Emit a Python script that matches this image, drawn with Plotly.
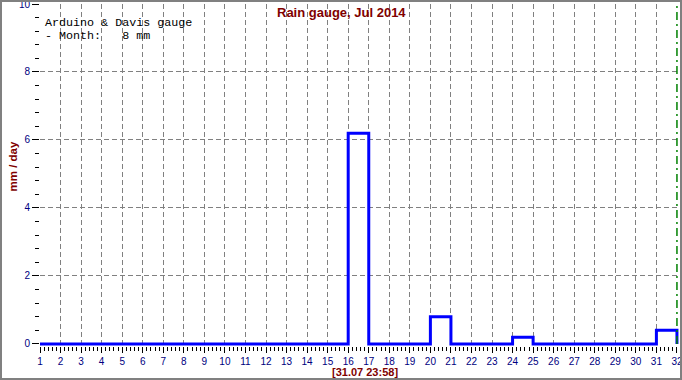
import plotly.graph_objects as go

# ---- data ----
days = [1, 2, 3, 4, 5, 6, 7, 8, 9, 10, 11, 12, 13, 14, 15, 16,
        17, 18, 19, 20, 21, 22, 23, 24, 25, 26, 27, 28, 29, 30, 31, 32]
rain_mm = [0, 0, 0, 0, 0, 0, 0, 0, 0, 0, 0, 0, 0, 0, 0, 6.2,
           0, 0, 0, 0.8, 0, 0, 0, 0.2, 0, 0, 0, 0, 0, 0, 0.4, 0]
now_day = [32, 32]
now_span = [0, 10]
title_text = "Rain gauge, Jul 2014"
y_title = "mm / day"
stamp_text = "[31.07 23:58]"
info_lines = ["Arduino &amp; Davis gauge", "- Month:&nbsp;&nbsp;&nbsp;8 mm"]
x_ticks = [1, 2, 3, 4, 5, 6, 7, 8, 9, 10, 11, 12, 13, 14, 15, 16,
           17, 18, 19, 20, 21, 22, 23, 24, 25, 26, 27, 28, 29, 30, 31, 32]
x_grid = [2, 3, 4, 5, 6, 7, 8, 9, 10, 11, 12, 13, 14, 15, 16,
          17, 18, 19, 20, 21, 22, 23, 24, 25, 26, 27, 28, 29, 30, 31]
y_ticks = [0, 2, 4, 6, 8, 10]
y_grid = [2, 4, 6, 8]

# ---- geometry helpers (pixels -> paper) ----
W, H = 682, 380
ML, MR, MT, MB = 40, 3, 4, 34
PW, PH = W - ML - MR, H - MT - MB
X_RANGE = [1, 32.1]
Y_RANGE = [-0.06, 10]


def px(x):
    return (x - ML) / PW


def py(y):
    return (H - MB - y) / PH


fig = go.Figure()
fig.add_trace(go.Scatter(
    x=now_day, y=now_span, mode="lines", xaxis="x2", yaxis="y2",
    line=dict(color="#008000", width=1.5, dash="8px,4px,2px,4px"),
    hoverinfo="skip", showlegend=False))
fig.add_trace(go.Scatter(
    x=days, y=rain_mm, mode="lines", line_shape="hv",
    line=dict(color="#0000FF", width=3),
    showlegend=False))

tickfont = dict(family="Liberation Sans, Arial", size=10, color="#000080")
grid_common = dict(showgrid=True, gridcolor="#808080", gridwidth=1,
                   griddash="5px,3px", zeroline=False, showline=False,
                   ticks="", showticklabels=False, fixedrange=True,
                   automargin=False)
fig.update_layout(
    width=W, height=H,
    margin=dict(l=ML, r=MR, t=MT, b=MB, autoexpand=False),
    paper_bgcolor="white", plot_bgcolor="white",
    xaxis=dict(range=X_RANGE, tickvals=x_ticks, ticks="outside",
               ticklen=6, tickcolor="black", tickwidth=1,
               tickfont=tickfont, ticklabeloverflow="allow",
               showgrid=False, zeroline=False, automargin=False,
               showline=False, fixedrange=True,
               minor=dict(dtick=0.2, tick0=1, ticks="outside", ticklen=4,
                          tickcolor="black", showgrid=False)),
    yaxis=dict(range=Y_RANGE, tickvals=y_ticks, ticks="outside",
               ticklen=7, tickcolor="black", tickwidth=1,
               tickfont=tickfont, ticklabeloverflow="allow",
               showgrid=False, zeroline=False, automargin=False,
               showline=False, fixedrange=True,
               minor=dict(dtick=0.4, tick0=0, ticks="outside", ticklen=4,
                          tickcolor="black", showgrid=False)),
    xaxis2=dict(range=X_RANGE, overlaying="x", anchor="y2", side="bottom",
                tickvals=x_grid, **grid_common),
    yaxis2=dict(range=Y_RANGE, overlaying="y", anchor="x2", side="left",
                tickvals=y_grid, **grid_common),
    shapes=[dict(type="rect", xref="paper", yref="paper",
                 x0=px(1), x1=px(681), y0=py(379), y1=py(1),
                 line=dict(color="#808080", width=2), layer="above")],
    annotations=[
        dict(text="<b>" + title_text + "</b>", xref="paper", yref="paper",
             x=px(341), y=py(13), xanchor="center", yanchor="middle",
             showarrow=False,
             font=dict(family="Liberation Sans, Arial", size=13, color="#800000")),
        dict(text="<b>" + y_title + "</b>", xref="paper", yref="paper",
             x=px(12.5), y=py(167), xanchor="center", yanchor="middle",
             textangle=-90, showarrow=False,
             font=dict(family="Liberation Sans, Arial", size=11.5, color="#800000")),
        dict(text="<b>" + stamp_text + "</b>", xref="paper", yref="paper",
             x=px(365), y=py(372), xanchor="center", yanchor="middle",
             showarrow=False,
             font=dict(family="Liberation Sans, Arial", size=11, color="#800000")),
        dict(text=info_lines[0], xref="paper", yref="paper",
             x=px(43), y=py(23), xanchor="left", yanchor="middle",
             showarrow=False,
             font=dict(family="Liberation Mono, Courier New, monospace",
                       size=11.7, color="black")),
        dict(text=info_lines[1], xref="paper", yref="paper",
             x=px(43), y=py(36), xanchor="left", yanchor="middle",
             showarrow=False,
             font=dict(family="Liberation Mono, Courier New, monospace",
                       size=11.7, color="black")),
    ],
)

fig.write_html("out.html", config={"displayModeBar": False})
